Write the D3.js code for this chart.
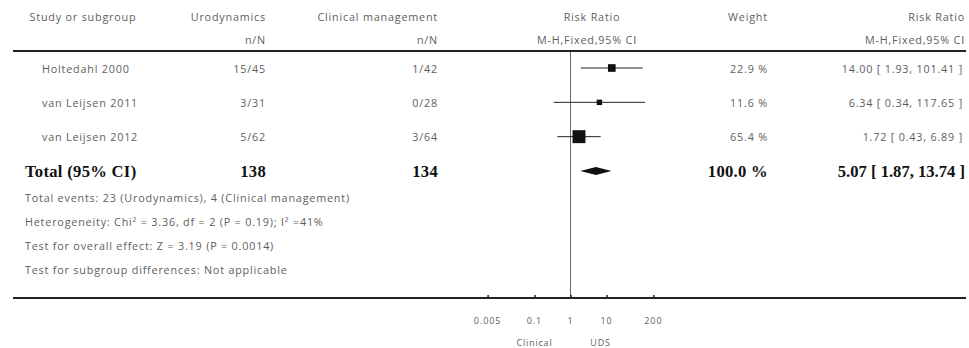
<!DOCTYPE html>
<html><head><meta charset="utf-8">
<script src="https://cdn.jsdelivr.net/npm/d3@7"></script>
<style>
html,body{margin:0;padding:0;background:#fff;}
svg{display:block;}
</style></head>
<body>
<script>
const studies = ["Holtedahl 2000", "van Leijsen 2011", "van Leijsen 2012"];
const udsEvents = ["15/45", "3/31", "5/62"];
const clinEvents = ["1/42", "0/28", "3/64"];
const rr = [14.00, 6.34, 1.72];
const lo = [1.93, 0.34, 0.43];
const hi = [101.41, 117.65, 6.89];
const weights = [22.9, 11.6, 65.4];
const total = {label: "Total (95% CI)", uds: "138", clin: "134", weight: "100.0 %", rr: 5.07, lo: 1.87, hi: 13.74};
const footer = [
  "Total events: 23 (Urodynamics), 4 (Clinical management)",
  "Heterogeneity: Chi² = 3.36, df = 2 (P = 0.19); I² =41%",
  "Test for overall effect: Z = 3.19 (P = 0.0014)",
  "Test for subgroup differences: Not applicable"
];
const tickVals = [0.005, 0.1, 1, 10, 200];
const tickLabels = ["0.005", "0.1", "1", "10", "200"];
const favours = ["Clinical", "UDS"];

const W = 969, H = 348;
const svg = d3.select("body").append("svg").attr("width", W).attr("height", H);
const font = "'Open Sans', Lato, sans-serif";
const grey = "#5e5e5e";
const fs = 10.8;

const x = d3.scaleLog().domain([0.005, 200]).range([487.6, 653.4]);
const rowY = d3.scalePoint().domain(d3.range(4)).range([68, 171]);

function txt(t, xx, yy, anchor, size, opts = {}) {
  return svg.append("text").attr("x", xx).attr("y", yy).attr("text-anchor", anchor)
    .attr("dominant-baseline", "central")
    .attr("font-family", opts.family || font).attr("font-size", size)
    .attr("font-weight", opts.weight || "normal")
    .attr("letter-spacing", opts.ls != null ? opts.ls : 0.8)
    .attr("fill", opts.fill || grey).text(t);
}

// header
txt("Study or subgroup", 83, 16, "middle", fs);
txt("Urodynamics", 266, 16, "end", fs);
txt("n/N", 266, 39, "end", fs);
txt("Clinical management", 438, 16, "end", fs);
txt("n/N", 438, 39, "end", fs);
txt("Risk Ratio", 592, 16, "middle", fs);
txt("M-H,Fixed,95% CI", 587, 39, "middle", fs);
txt("Weight", 748, 16, "middle", fs);
txt("Risk Ratio", 965, 16, "end", fs);
txt("M-H,Fixed,95% CI", 965, 39, "end", fs);

svg.append("line").attr("x1", 13).attr("x2", 966).attr("y1", 51).attr("y2", 51)
  .attr("stroke", "#222").attr("stroke-width", 2);

// null line
svg.append("line").attr("x1", x(1)).attr("x2", x(1)).attr("y1", 52).attr("y2", 298)
  .attr("stroke", "#666").attr("stroke-width", 1);

// study rows
studies.forEach((s, i) => {
  const y = rowY(i);
  txt(s, 42, y, "start", fs);
  txt(udsEvents[i], 266, y, "end", fs);
  txt(clinEvents[i], 438, y, "end", fs);
  txt(weights[i].toFixed(1) + " %", 768, y, "end", fs);
  txt(rr[i].toFixed(2) + " [ " + lo[i].toFixed(2) + ", " + hi[i].toFixed(2) + " ]", 963, y, "end", fs);
  svg.append("line").attr("x1", x(lo[i])).attr("x2", x(hi[i])).attr("y1", y).attr("y2", y)
    .attr("stroke", "#222").attr("stroke-width", 1);
  const sz = Math.max(5, Math.sqrt(weights[i]) * 1.6);
  svg.append("rect").attr("x", x(rr[i]) - sz / 2).attr("y", y - sz / 2)
    .attr("width", sz).attr("height", sz).attr("fill", "#111");
});

// total row
const ty = rowY(3);
const serif = "'Liberation Serif', 'DejaVu Serif', serif";
const bfs = 16.6;
const bopt = {family: serif, weight: "bold", fill: "#111", ls: 0.3};
txt(total.label, 25, ty, "start", bfs, bopt);
txt(total.uds, 266, ty, "end", bfs, bopt);
txt(total.clin, 438, ty, "end", bfs, bopt);
txt(total.weight, 768, ty, "end", bfs, bopt);
txt(total.rr.toFixed(2) + " [ " + total.lo.toFixed(2) + ", " + total.hi.toFixed(2) + " ]", 965, ty, "end", bfs, {family: serif, weight: "bold", fill: "#111", ls: 0});
svg.append("path")
  .attr("d", `M${x(total.lo)},${ty} L${x(total.rr)},${ty - 4} L${x(total.hi)},${ty} L${x(total.rr)},${ty + 4} Z`)
  .attr("fill", "#111");

// footer
footer.forEach((f, i) => txt(f, 25, 197 + i * 24, "start", fs));

// axis
const axisY = 298;
svg.append("line").attr("x1", 13).attr("x2", 966).attr("y1", axisY).attr("y2", axisY)
  .attr("stroke", "#222").attr("stroke-width", 2);
const ax = svg.append("g").attr("transform", `translate(0,${axisY})`)
  .call(d3.axisTop(x).tickValues(tickVals).tickSize(3).tickFormat(""));
ax.select(".domain").remove();
ax.selectAll("line").attr("stroke", "#222").attr("stroke-width", 1.5);
tickVals.forEach((v, i) => txt(tickLabels[i], x(v), 320, "middle", 9, {ls: 0.9}));
txt(favours[0], x(0.1), 342, "middle", 9, {ls: 0.8});
txt(favours[1], x(10) - 6, 342, "middle", 9, {ls: 0.8});
</script>
</body></html>
